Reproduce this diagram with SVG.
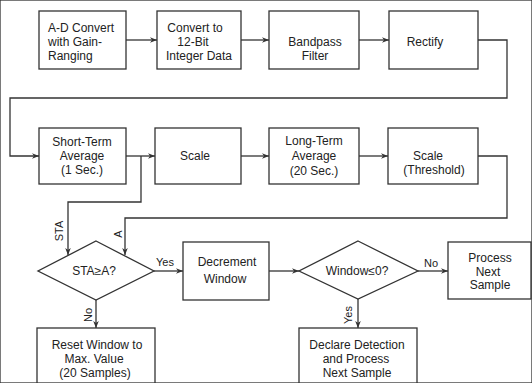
<svg xmlns="http://www.w3.org/2000/svg" width="532" height="383" viewBox="0 0 532 383">
<defs>
<marker id="ah" viewBox="0 0 10 10" refX="10" refY="5" markerWidth="7" markerHeight="7" markerUnits="userSpaceOnUse" orient="auto">
<path d="M0,1 L10,5 L0,9 L3,5 Z" fill="#333"/>
</marker>
</defs>
<style>
rect,polygon{fill:none;stroke:#333;stroke-width:1.3}
.c path{fill:none;stroke:#333;stroke-width:1.3}
text{font-family:"Liberation Sans",Arial,sans-serif;font-size:12px;fill:#222;text-anchor:middle}
.s{font-size:11px}
</style>
<rect width="532" height="383" fill="#fff" stroke="none"/>
<g id="n1"><rect x="39" y="11" width="87" height="58"/>
<text x="48" y="32" style="text-anchor:start">A-D Convert</text>
<text x="48" y="46" style="text-anchor:start">with  Gain-</text>
<text x="48" y="60" style="text-anchor:start">Ranging</text></g>
<g id="n2"><rect x="157" y="11" width="84" height="58"/>
<text x="195" y="32">Convert to</text>
<text x="193" y="46">12-Bit</text>
<text x="199" y="60">Integer Data</text></g>
<g id="n3"><rect x="269" y="11" width="90" height="58"/>
<text x="315" y="46">Bandpass</text>
<text x="315" y="60">Filter</text></g>
<g id="n4"><rect x="389" y="11" width="89" height="58"/>
<text x="425" y="46">Rectify</text></g>
<g id="n5"><rect x="39" y="128" width="87" height="56"/>
<text x="82" y="146">Short-Term</text>
<text x="82" y="160">Average</text>
<text x="82" y="174">(1 Sec.)</text></g>
<g id="n6"><rect x="155" y="128" width="86" height="56"/>
<text x="195" y="160">Scale</text></g>
<g id="n7"><rect x="269" y="128" width="90" height="56"/>
<text x="314" y="145">Long-Term</text>
<text x="314" y="160">Average</text>
<text x="314" y="175">(20 Sec.)</text></g>
<g id="n8"><rect x="388" y="128" width="90" height="56"/>
<text x="428" y="160">Scale</text>
<text x="434" y="174">(Threshold)</text></g>
<g id="d1"><polygon points="96,241 154,271 96,300 38,271"/>
<text x="94" y="275">STA≥A?</text></g>
<g id="n9"><rect x="183" y="242" width="86" height="58"/>
<text x="227" y="266">Decrement</text>
<text x="225" y="283">Window</text></g>
<g id="d2"><polygon points="358,241 418,271 358,299 299,271"/>
<text x="357" y="275">Window≤0?</text></g>
<g id="n10"><rect x="448" y="242" width="83" height="57"/>
<text x="490" y="262">Process</text>
<text x="488" y="276">Next</text>
<text x="490" y="289">Sample</text></g>
<g id="n11"><rect x="37" y="328" width="118" height="70"/>
<text x="97" y="349">Reset Window to</text>
<text x="94" y="363">Max. Value</text>
<text x="95" y="377">(20 Samples)</text></g>
<g id="n12"><rect x="299" y="328" width="118" height="70"/>
<text x="357" y="349">Declare Detection</text>
<text x="356" y="363">and Process</text>
<text x="357" y="377">Next Sample</text></g>
<g class="c" id="connectors">
<path d="M126,40 H157" marker-end="url(#ah)"/>
<path d="M241,40 H269" marker-end="url(#ah)"/>
<path d="M359,40 H389" marker-end="url(#ah)"/>
<path d="M478,40 H507 V98 H10 V156 H39" marker-end="url(#ah)"/>
<path d="M126,156 H155" marker-end="url(#ah)"/>
<path d="M241,156 H269" marker-end="url(#ah)"/>
<path d="M359,156 H388" marker-end="url(#ah)"/>
<path d="M141,156 V202 H68 V255" marker-end="url(#ah)"/>
<path d="M478,156 H507 V218 H125 V255" marker-end="url(#ah)"/>
<path d="M154,271 H183" marker-end="url(#ah)"/>
<path d="M269,271 H299" marker-end="url(#ah)"/>
<path d="M418,271 H448" marker-end="url(#ah)"/>
<path d="M96,300 V328" marker-end="url(#ah)"/>
<path d="M358,299 V328" marker-end="url(#ah)"/>
</g>
<g id="labels">
<text class="s" transform="translate(63,231) rotate(-90)">STA</text>
<text class="s" transform="translate(122,234) rotate(-90)">A</text>
<text class="s" x="165" y="266">Yes</text>
<text class="s" x="431" y="267">No</text>
<text class="s" transform="translate(92,315) rotate(-90)">No</text>
<text class="s" transform="translate(352,315) rotate(-90)">Yes</text>
</g>
</svg>
